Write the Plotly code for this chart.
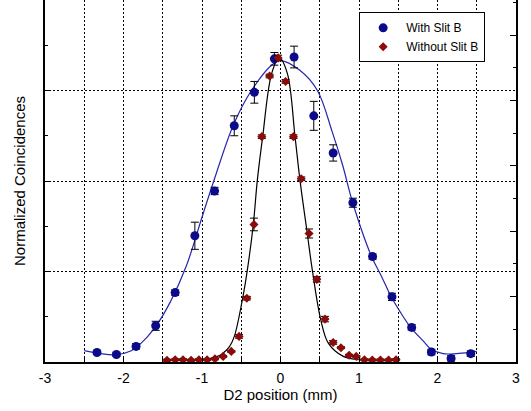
import plotly.graph_objects as go

# ---- data ----
with_x = [-2.338, -2.09, -1.84, -1.59, -1.342, -1.091, -0.84, -0.589, -0.333, -0.078,
          0.173, 0.424, 0.671, 0.922, 1.173, 1.42, 1.671, 1.922, 2.173, 2.424]
with_y = [0.105, 0.083, 0.172, 0.40, 0.767, 1.395, 1.89, 2.61, 2.98, 3.35,
          3.37, 2.72, 2.31, 1.76, 1.165, 0.72, 0.382, 0.11, 0.04, 0.092]
with_err = [0.02, 0.02, 0.03, 0.05, 0.03, 0.15, 0.04, 0.11, 0.12, 0.07,
            0.12, 0.16, 0.09, 0.05, 0.03, 0.04, 0.03, 0.03, 0.03, 0.03]

without_x = [-1.446, -1.342, -1.242, -1.139, -1.039, -0.935, -0.835, -0.731, -0.627, -0.528,
             -0.429, -0.338, -0.238, -0.139, -0.030, 0.065, 0.165, 0.264, 0.364, 0.463,
             0.567, 0.671, 0.770, 0.874, 0.965, 1.069, 1.169, 1.273, 1.377, 1.472]
without_y = [0.02, 0.025, 0.025, 0.02, 0.025, 0.025, 0.035, 0.062, 0.117, 0.283,
             0.705, 1.52, 2.49, 3.16, 3.36, 3.10, 2.49, 2.025, 1.42, 0.913,
             0.474, 0.216, 0.158, 0.075, 0.062, 0.025, 0.022, 0.022, 0.022, 0.025]
without_err = [0.01, 0.01, 0.01, 0.01, 0.01, 0.01, 0.01, 0.01, 0.01, 0.02,
               0.02, 0.07, 0.02, 0.02, 0.03, 0.02, 0.02, 0.02, 0.05, 0.03,
               0.03, 0.02, 0.01, 0.01, 0.01, 0.01, 0.01, 0.01, 0.01, 0.01]

# fitted curves
fit_with_x = [-2.5, -2.3, -2.1, -1.9, -1.8, -1.6, -1.4, -1.2, -1.0, -0.85, -0.6, -0.37,
              -0.1, 0.0, 0.25, 0.47, 0.66, 0.79, 0.92, 1.16, 1.29, 1.41, 1.52, 1.66,
              1.82, 1.92, 2.07, 2.24, 2.41, 2.5]
fit_with_y = [0.125, 0.093, 0.080, 0.125, 0.187, 0.38, 0.67, 1.06, 1.60, 2.0, 2.62, 3.0,
              3.29, 3.33, 3.22, 3.0, 2.54, 2.18, 1.76, 1.165, 0.94, 0.72, 0.56, 0.38,
              0.23, 0.14, 0.092, 0.092, 0.106, 0.117]

fit_without_x = [-1.45, -1.2, -1.0, -0.94, -0.85, -0.77, -0.728, -0.65, -0.588, -0.482,
                 -0.422, -0.346, -0.295, -0.227, -0.112, -0.015, 0.087, 0.185, 0.248,
                 0.341, 0.405, 0.511, 0.609, 0.8, 1.0, 1.2, 1.47]
fit_without_y = [0.02, 0.02, 0.025, 0.033, 0.05, 0.075, 0.099, 0.17, 0.283, 0.705,
                 1.018, 1.525, 2.01, 2.49, 3.19, 3.36, 3.19, 2.49, 2.01,
                 1.42, 1.018, 0.474, 0.209, 0.062, 0.025, 0.02, 0.018]

x_ticks = [-3, -2, -1, 0, 1, 2, 3]

BLUE = "#0a0a8a"
RED = "#8b0a0a"
FONT = "Arial, Liberation Sans, sans-serif"
GRID_DASH = "2px,2px"

fig = go.Figure()
fig.add_trace(go.Scatter(x=fit_with_x, y=fit_with_y, mode="lines",
                         line=dict(color="#2626ad", width=1.2, shape="spline", smoothing=1.0),
                         showlegend=False, hoverinfo="skip"))
fig.add_trace(go.Scatter(x=fit_without_x, y=fit_without_y, mode="lines",
                         line=dict(color="black", width=1.2, shape="spline", smoothing=1.0),
                         showlegend=False, hoverinfo="skip"))
fig.add_trace(go.Scatter(x=with_x, y=with_y, mode="markers", name="With Slit B",
                         marker=dict(symbol="circle", size=9, color=BLUE),
                         error_y=dict(type="data", array=with_err, color="black",
                                      thickness=1, width=4)))
fig.add_trace(go.Scatter(x=without_x, y=without_y, mode="markers", name="Without Slit B",
                         marker=dict(symbol="diamond", size=7, color=RED),
                         error_y=dict(type="data", array=without_err, color="black",
                                      thickness=1, width=4)))
# right-hand axis carrying only its own tick marks
fig.add_trace(go.Scatter(x=[None], y=[None], yaxis="y2", showlegend=False, hoverinfo="skip"))

fig.update_layout(
    width=531, height=411,
    margin=dict(l=45, r=15, t=0, b=49),
    paper_bgcolor="white", plot_bgcolor="white",
    font=dict(family=FONT, color="black", size=14),
    xaxis=dict(range=[-3, 3], tickvals=x_ticks, ticktext=[str(v) for v in x_ticks],
               ticks="inside", ticklen=5, tickcolor="black", tickfont=dict(size=14),
               ticklabelstandoff=2, automargin=False,
               showline=True, linecolor="black", linewidth=1.5, mirror=True,
               showgrid=True, gridcolor="black", gridwidth=1, griddash=GRID_DASH,
               zeroline=False,
               minor=dict(dtick=0.5, tick0=-3, ticks="inside", ticklen=4, tickcolor="black",
                          showgrid=True, gridcolor="black", gridwidth=1, griddash=GRID_DASH),
               title=dict(text="D2 position (mm)", font=dict(size=15), standoff=4)),
    yaxis=dict(range=[0, 4], dtick=1, tick0=0, showticklabels=False, automargin=False,
               ticks="inside", ticklen=5, tickcolor="black",
               showline=True, linecolor="black", linewidth=1.5,
               showgrid=True, gridcolor="black", gridwidth=1, griddash=GRID_DASH,
               zeroline=False,
               minor=dict(dtick=0.5, tick0=0, ticks="inside", ticklen=3, tickcolor="black",
                          showgrid=False),
               title=dict(text="Normalized Coincidences", font=dict(size=15), standoff=14)),
    yaxis2=dict(overlaying="y", side="right", range=[0, 11.08], dtick=2, tick0=0,
                showticklabels=False, ticks="inside", ticklen=6, tickcolor="black",
                showline=True, linecolor="black", linewidth=1.5, showgrid=False,
                zeroline=False, automargin=False,
                minor=dict(dtick=1, tick0=0, ticks="inside", ticklen=3, tickcolor="black")),
    legend=dict(x=0.667, y=0.966, xanchor="left", yanchor="top",
                bgcolor="white", bordercolor="black", borderwidth=1,
                font=dict(size=12), tracegroupgap=0, itemwidth=36),
)

fig.write_html("out.html", config={"displayModeBar": False},
               post_script="document.body.style.margin='0';document.body.style.padding='0';")
